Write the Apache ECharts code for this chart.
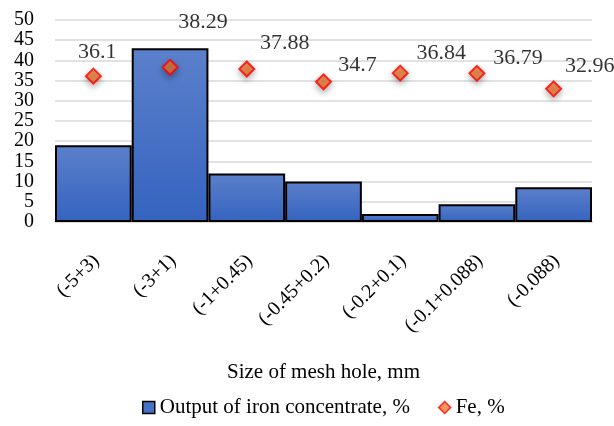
<!DOCTYPE html>
<html><head><meta charset="utf-8">
<script src="https://cdn.jsdelivr.net/npm/echarts@6/dist/echarts.min.js"></script>
<style>html,body{margin:0;padding:0;background:#fff}#c{width:614px;height:426px}</style>
</head><body><div id="c"></div>
<script>
var categories = ['(-5+3)', '(-3+1)', '(-1+0.45)', '(-0.45+0.2)', '(-0.2+0.1)', '(-0.1+0.088)', '(-0.088)'];
var outputValues = [19, 43, 12, 10, 2, 4.4, 8.6];
var feValues = [36.1, 38.29, 37.88, 34.7, 36.84, 36.79, 32.96];
var yTicks = [0, 5, 10, 15, 20, 25, 30, 35, 40, 45, 50];
var feLabelOffsets = [[4, -24], [33, -45], [38, -26], [34, -17], [41, -20], [41, -15], [36, -23]];

var font = 'Liberation Serif';
var chart = echarts.init(document.getElementById('c'));
chart.setOption({
  animation: false,
  grid: {left: 55, right: 22, top: 20, bottom: 204},
  legend: {
    top: 392, left: 137, itemGap: 28, itemWidth: 12, itemHeight: 12,
    textStyle: {fontFamily: font, fontSize: 21, color: '#000'},
    data: [
      {name: 'Output of iron concentrate, %', icon: 'rect', itemStyle: {color: '#4472c4', borderColor: '#000', borderWidth: 1.5}},
      {name: 'Fe, %', icon: 'diamond', itemStyle: {color: '#ed7d31', borderColor: '#ff0000', borderWidth: 1.5}}
    ]
  },
  xAxis: {
    type: 'category', data: categories,
    name: 'Size of mesh hole, mm', nameLocation: 'middle', nameGap: 140,
    nameTextStyle: {fontFamily: font, fontSize: 21, color: '#000'},
    axisLine: {lineStyle: {color: '#d9d9d9', width: 2}},
    axisTick: {show: false},
    axisLabel: {rotate: 45, fontFamily: font, fontSize: 20, color: '#000', margin: 16, interval: 0,
      verticalAlign: 'top', padding: [6, 12, 0, 0]}
  },
  yAxis: {
    type: 'value', min: yTicks[0], max: yTicks[yTicks.length - 1], interval: 5,
    axisLine: {show: false}, axisTick: {show: false},
    axisLabel: {fontFamily: font, fontSize: 20, color: '#000', margin: 21},
    splitLine: {lineStyle: {color: '#d9d9d9', width: 1.5}}
  },
  series: [
    {
      name: 'Output of iron concentrate, %', type: 'bar', data: outputValues,
      barWidth: '100%', barGap: '-100%',
      itemStyle: {
        borderColor: '#000', borderWidth: 2,
        color: {type: 'linear', x: 0, y: 0, x2: 0, y2: 1, colorStops: [
          {offset: 0, color: '#5b80cb'}, {offset: 1, color: '#3563bf'}]}
      }
    },
    {
      name: 'Fe, %', type: 'scatter', symbol: 'diamond', symbolSize: 15,
      data: feValues.map(function (v, i) {
        return {value: v, label: {offset: feLabelOffsets[i]}};
      }),
      itemStyle: {color: '#f07830', borderColor: '#ff0000', borderWidth: 2,
        shadowColor: 'rgba(0,0,0,0.35)', shadowBlur: 6, shadowOffsetY: 3},
      label: {show: true, position: 'inside', fontFamily: font, fontSize: 22, color: '#000',
        formatter: function (p) { return String(p.value); }},
      z: 5
    }
  ]
});
</script></body></html>
